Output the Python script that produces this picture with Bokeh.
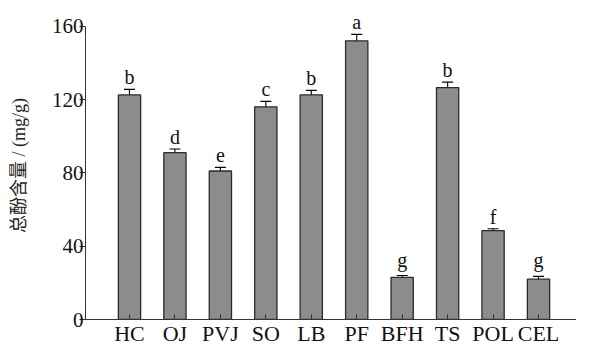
from bokeh.plotting import figure
from bokeh.models import ColumnDataSource, Whisker, FixedTicker, Range1d
from bokeh.core.properties import value
from bokeh.embed import file_html
from bokeh.resources import INLINE

categories = ["HC", "OJ", "PVJ", "SO", "LB", "PF", "BFH", "TS", "POL", "CEL"]
values = [122.5, 91, 81, 116, 122.5, 152, 23, 126.5, 48.5, 22]
errors = [3, 2, 2, 3, 2.5, 3.5, 1, 3, 1, 1.5]
letters = ["b", "d", "e", "c", "b", "a", "g", "b", "f", "g"]
y_ticks = [0, 40, 80, 120, 160]

xs = list(range(len(categories)))
src = ColumnDataSource(dict(
    x=xs, top=values,
    upper=[v + e for v, e in zip(values, errors)],
    lower=[v - e for v, e in zip(values, errors)],
    letter=letters,
    loff=[-16 if l in "gjpqy" else -12 for l in letters],
))

SERIF = "Liberation Serif"
p = figure(width=576, height=348, output_backend="svg", toolbar_location=None,
           x_range=Range1d(-0.968, 9.836), y_range=Range1d(0, 168),
           min_border_left=85, min_border_right=0, min_border_top=11,
           min_border_bottom=20)
p.outline_line_color = None
p.xgrid.visible = False
p.ygrid.visible = False

p.vbar(x="x", top="top", bottom=0, width=0.49, source=src,
       fill_color="#8c8c8c", line_color="#2b2b2b", line_width=1.3)
w = Whisker(base="x", upper="upper", lower="lower", source=src,
            line_color="#111111", line_width=1.2)
w.upper_head.size = 11
w.lower_head.size = 11
w.upper_head.line_width = 1.2
w.lower_head.line_width = 1.2
p.add_layout(w)

p.text(x="x", y="upper", text="letter", source=src, text_align="center",
       text_baseline="alphabetic", y_offset="loff", text_font=value(SERIF),
       text_font_size="20px", text_color="#111111")

# x axis
p.xaxis.ticker = FixedTicker(ticks=xs)
p.xaxis.major_label_overrides = {i: c for i, c in enumerate(categories)}
p.xaxis.major_tick_in = 5
p.xaxis.major_tick_out = 0
p.xaxis.minor_tick_line_color = None
p.xaxis.axis_line_color = "#333333"
p.xaxis.major_tick_line_color = "#333333"
p.xaxis.major_label_text_font = SERIF
p.xaxis.major_label_text_font_size = "22px"
p.xaxis.major_label_text_color = "#111111"
p.xaxis.major_label_standoff = 1
p.xaxis.axis_label_standoff = 0

# y axis
p.yaxis.bounds = (0, 160)
p.yaxis.ticker = FixedTicker(ticks=y_ticks)
p.yaxis.major_tick_in = 0
p.yaxis.major_tick_out = 6
p.yaxis.minor_tick_line_color = None
p.yaxis.axis_line_color = "#333333"
p.yaxis.major_tick_line_color = "#333333"
p.yaxis.major_label_text_font = SERIF
p.yaxis.major_label_text_font_size = "21px"
p.yaxis.major_label_text_color = "#111111"
p.yaxis.major_label_standoff = -4
p.yaxis.axis_label = "总酚含量 / (mg/g)"
p.yaxis.axis_label_text_font = "Liberation Serif, Noto Sans CJK SC"
p.yaxis.axis_label_text_font_style = "normal"
p.yaxis.axis_label_text_font_size = "18px"
p.yaxis.axis_label_text_color = "#222222"
p.yaxis.axis_label_standoff = 20

open("out.html", "w").write(file_html(p, INLINE))
